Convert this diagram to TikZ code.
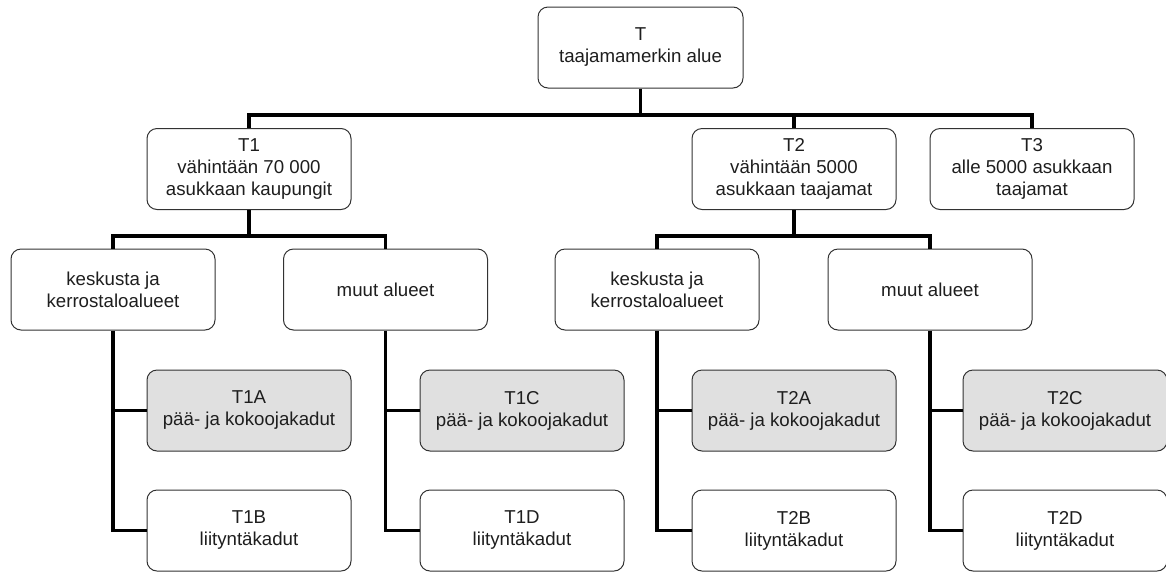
\documentclass[tikz,border=0pt]{standalone}
\usepackage{fontspec}
\setmainfont{Liberation Sans}
\definecolor{boxfill}{RGB}{224,224,224}
\definecolor{boxline}{RGB}{50,50,50}
\definecolor{txt}{RGB}{30,30,30}
\begin{document}
\begin{tikzpicture}[x=0.75pt,y=-0.75pt,
  box/.style={draw=boxline,line width=0.75pt,rounded corners=7.5pt,fill=white,
    minimum width=153pt,minimum height=60.75pt,inner sep=0pt,align=center,
    text=txt,font=\fontsize{14}{16.5}\selectfont},
  graybox/.style={box,fill=boxfill},
  conn/.style={line width=2.5pt,black,line join=miter,line cap=rect}]
\useasboundingbox (0,0) rectangle (1166,572);
% level 0
\node[box,minimum width=153.75pt] (T) at (640.5,47.5) {T\\taajamamerkin alue};
% level 1
\node[box] (T1) at (249,169) {T1\\vähintään 70 000\\asukkaan kaupungit};
\node[box] (T2) at (794,169) {T2\\vähintään 5000\\asukkaan taajamat};
\node[box] (T3) at (1032,169) {T3\\alle 5000 asukkaan\\taajamat};
% level 2
\node[box] (K1) at (113,289.5) {keskusta ja\\kerrostaloalueet};
\node[box] (M1) at (385.5,289.5) {muut alueet};
\node[box] (K2) at (657,289.5) {keskusta ja\\kerrostaloalueet};
\node[box] (M2) at (930,289.5) {muut alueet};
% level 3
\node[graybox] (T1A) at (249,410.5) {T1A\\pää- ja kokoojakadut};
\node[box] (T1B) at (249,530.5) {T1B\\liityntäkadut};
\node[graybox] (T1C) at (522,410.5) {T1C\\pää- ja kokoojakadut};
\node[box] (T1D) at (522,530.5) {T1D\\liityntäkadut};
\node[graybox] (T2A) at (794,410.5) {T2A\\pää- ja kokoojakadut};
\node[box] (T2B) at (794,530.5) {T2B\\liityntäkadut};
\node[graybox] (T2C) at (1065,410.5) {T2C\\pää- ja kokoojakadut};
\node[box] (T2D) at (1065,530.5) {T2D\\liityntäkadut};
% bus coordinates
\coordinate (b0) at (640.5,115);
\coordinate (b1) at (249,236);
\coordinate (b2) at (794,236);
% connectors
\draw[conn,line cap=butt] (T.south) -- (b0);
\draw[conn,line cap=butt] (T1.north) |- (b0) -| (T3.north);
\draw[conn,line cap=butt] (T2.north) -- (T2.north |- b0);
\draw[conn,line cap=butt] (T1.south) -- (b1);
\draw[conn,line cap=butt] (K1.north) |- (b1) -| (M1.north);
\draw[conn,line cap=butt] (T2.south) -- (b2);
\draw[conn,line cap=butt] (K2.north) |- (b2) -| (M2.north);
\draw[conn,line cap=butt] (K1.south) |- (T1B.west);
\draw[conn,line cap=butt] (T1A.west) -- (K1.south |- T1A.west);
\draw[conn,line cap=butt] (M1.south) |- (T1D.west);
\draw[conn,line cap=butt] (T1C.west) -- (M1.south |- T1C.west);
\draw[conn,line cap=butt] (K2.south) |- (T2B.west);
\draw[conn,line cap=butt] (T2A.west) -- (K2.south |- T2A.west);
\draw[conn,line cap=butt] (M2.south) |- (T2D.west);
\draw[conn,line cap=butt] (T2C.west) -- (M2.south |- T2C.west);
\end{tikzpicture}
\end{document}
